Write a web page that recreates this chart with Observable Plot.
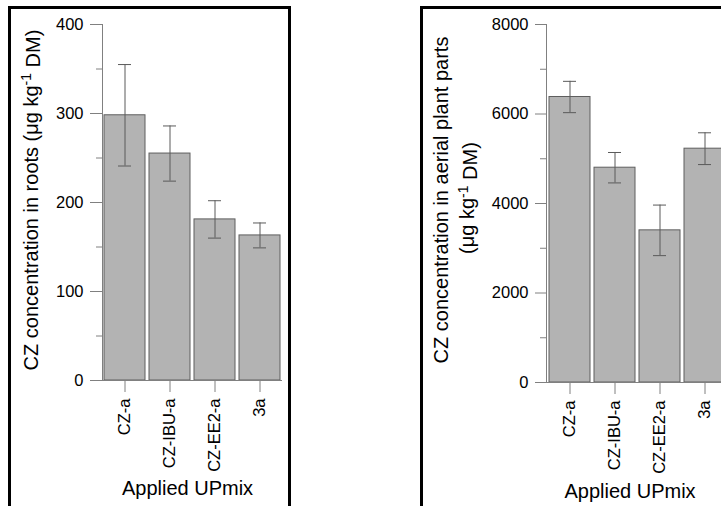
<!DOCTYPE html>
<html>
<head>
<meta charset="utf-8">
<script src="https://cdn.jsdelivr.net/npm/d3@7"></script>
<script src="https://cdn.jsdelivr.net/npm/@observablehq/plot@0.6"></script>
<style>
  html, body { margin: 0; padding: 0; background: #fff; }
  body { position: relative; width: 721px; height: 506px; overflow: hidden; }
  .panel { position: absolute; top: 0; }
  .box { position: absolute; box-sizing: border-box; border: 3px solid #000; pointer-events: none; }
</style>
</head>
<body>
<div id="roots" class="panel" style="left:0; width:300px;"></div>
<div id="aerial" class="panel" style="left:400px; width:340px;"></div>
<div class="box" style="left:8px; top:6px; width:283px; height:530px;"></div>
<div class="box" style="left:420px; top:6px; width:400px; height:530px;"></div>
<script>
// UP mixtures applied to the plants
const mixes = ["CZ-a", "CZ-IBU-a", "CZ-EE2-a", "3a"];

// CZ in roots (µg kg-1 DM): mean and error
const rootMean = [298, 255, 181, 163];
const rootErr = [57, 31, 21, 14];

// CZ in aerial plant parts (µg kg-1 DM): mean and error
const aerialMean = [6380, 4800, 3400, 5225];
const aerialErr = [350, 340, 565, 355];

// axis ticks
const rootTicks = [0, 100, 200, 300, 400];
const rootMinor = [50, 150, 250, 350];
const aerialTicks = [0, 2000, 4000, 6000, 8000];
const aerialMinor = [1000, 3000, 5000, 7000];

const axisColor = "#808080";
const font = "'Liberation Sans', Arial, Helvetica, sans-serif";

function barPanel({mean, err, ticks, minor, width, marginLeft, marginRight, marginBottom, tickSize}) {
  const data = mixes.map((mix, i) => ({mix, mean: mean[i], lo: mean[i] - err[i], hi: mean[i] + err[i]}));
  return Plot.plot({
    width,
    height: 506,
    marginLeft,
    marginRight,
    marginTop: 24,
    marginBottom,
    style: {fontFamily: font, fontSize: "16.5px", color: "#000", background: "none", maxWidth: "none", overflow: "visible"},
    x: {domain: mixes, paddingInner: 0.1, paddingOuter: 0.05, align: 0.5, axis: null},
    y: {domain: [ticks[0], ticks[ticks.length - 1]], axis: null},
    marks: [
      Plot.barY(data, {x: "mix", y: "mean", fill: "#b3b3b3", stroke: "#5e5e5e", strokeWidth: 1}),
      Plot.ruleX(data, {x: "mix", y1: "lo", y2: "hi", stroke: "#5a5a5a"}),
      Plot.tickY(data, {x: "mix", y: "lo", insetLeft: 14, insetRight: 14, stroke: "#5a5a5a"}),
      Plot.tickY(data, {x: "mix", y: "hi", insetLeft: 14, insetRight: 14, stroke: "#5a5a5a"}),
      Plot.ruleY([0], {stroke: axisColor}),
      Plot.frame({anchor: "left", stroke: axisColor}),
      Plot.axisY(ticks, {tickSize, tickPadding: 7, stroke: axisColor, fill: "#000", label: null, tickFormat: d => String(d)}),
      Plot.axisY(minor, {tickSize: 6, stroke: axisColor, fill: "none", label: null}),
      Plot.axisX({tickRotate: -90, tickSize: 12, tickPadding: 6, stroke: axisColor, fill: "#000", label: null})
    ]
  });
}

// axis title with a raised "-1" in the unit
function addTitle(svg, x, y, parts, rotate) {
  const t = d3.select(svg).append("text")
    .attr("transform", `translate(${x},${y})` + (rotate ? " rotate(-90)" : ""))
    .attr("text-anchor", "middle")
    .attr("fill", "#000")
    .style("font-family", font)
    .style("font-size", "20px");
  for (const p of parts) {
    const s = t.append("tspan").text(p.text);
    if (p.sup) s.attr("dy", "-0.45em").style("font-size", "14px");
    if (p.after) s.attr("dy", "0.45em");
  }
}

const roots = barPanel({
  mean: rootMean, err: rootErr, ticks: rootTicks, minor: rootMinor,
  width: 300, marginLeft: 102, marginRight: 18, marginBottom: 126, tickSize: 12
});
addTitle(roots, 187.5, 495, [{text: "Applied UPmix"}], false);
addTitle(roots, 37.5, 200, [
  {text: "CZ concentration in roots (μg kg"},
  {text: "-1", sup: true},
  {text: " DM)", after: true}
], true);
document.getElementById("roots").appendChild(roots);

const aerial = barPanel({
  mean: aerialMean, err: aerialErr, ticks: aerialTicks, minor: aerialMinor,
  width: 340, marginLeft: 146, marginRight: 12, marginBottom: 124, tickSize: 11
});
addTitle(aerial, 230, 498, [{text: "Applied UPmix"}], false);
addTitle(aerial, 48, 200, [{text: "CZ concentration in aerial plant parts"}], true);
addTitle(aerial, 74, 198, [
  {text: "(μg kg"},
  {text: "-1", sup: true},
  {text: " DM)", after: true}
], true);
document.getElementById("aerial").appendChild(aerial);
</script>
</body>
</html>
